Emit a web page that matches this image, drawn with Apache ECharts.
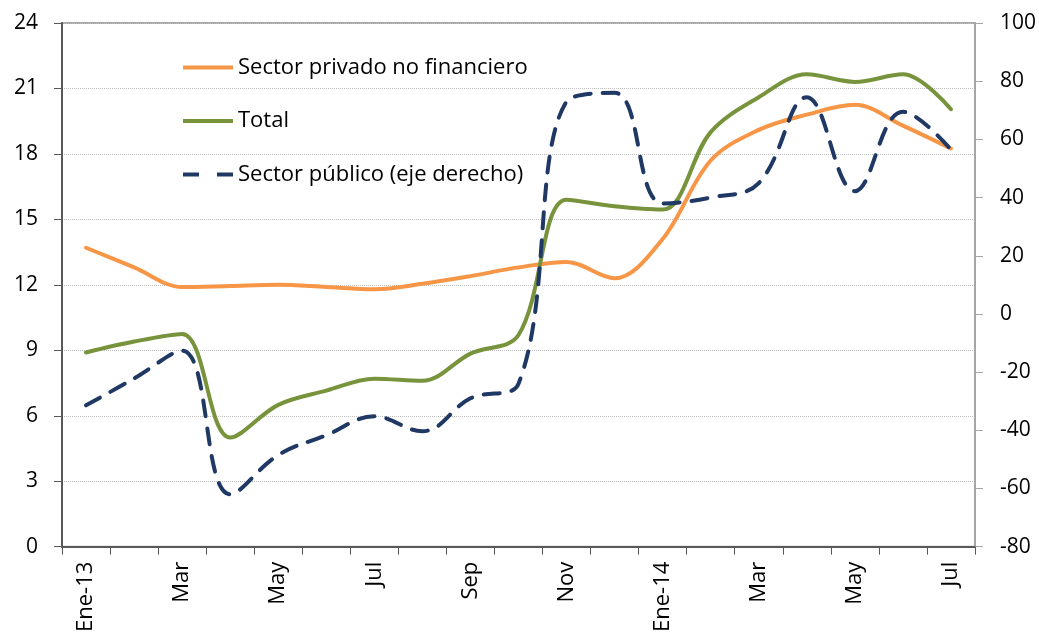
<!DOCTYPE html>
<html>
<head>
<meta charset="utf-8">
<script src="https://cdn.jsdelivr.net/npm/echarts@6/dist/echarts.min.js"></script>
<style>html,body{margin:0;padding:0;background:#fff}#c{width:1039px;height:635px}</style>
</head>
<body>
<div id="c"></div>
<script>
var categories = ['Ene-13','Feb','Mar','Abr','May','Jun','Jul','Ago','Sep','Oct','Nov','Dic','Ene-14','Feb','Mar','Abr','May','Jun','Jul'];
var privado = [13.7, 12.8, 11.9, 11.95, 12.0, 11.9, 11.8, 12.05, 12.4, 12.8, 13.05, 12.3, 14.1, 17.7, 19.1, 19.8, 20.25, 19.3, 18.25];
var total = [8.9, 9.4, 9.75, 5.0, 6.5, 7.15, 7.7, 7.6, 8.85, 9.7, 15.9, 15.6, 15.45, 19.0, 20.6, 21.65, 21.3, 21.65, 20.05];
var publico = [-31.4, -22.2, -12.6, -62, -48.5, -41.7, -35.2, -40.3, -29, -24, 73, 76, 38, 40, 45, 74.5, 42.2, 69.5, 56.5];
var names = ['Sector privado no financiero', 'Total', 'Sector público (eje derecho)'];

var font = 'Open Sans';
var solidIcon = 'path://M0,0h50v4h-50z';
var dashIcon = 'path://M0,0h16v4h-16z M34,0h16v4h-16z';
var chart = echarts.init(document.getElementById('c'));
chart.setOption({
  animation: false,
  textStyle: {fontFamily: font},
  grid: {left: 62, right: 63, top: 23, bottom: 86, show: true, borderColor: '#a6a6a6', borderWidth: 2},
  legend: {
    orient: 'vertical', left: 183, top: 56.5, padding: 0, itemWidth: 50, itemHeight: 4, itemGap: 31.5,
    textStyle: {fontSize: 22, color: '#000', fontFamily: font},
    data: [
      {name: names[0], icon: solidIcon},
      {name: names[1], icon: solidIcon},
      {name: names[2], icon: dashIcon}
    ]
  },
  xAxis: {
    type: 'category', data: categories, boundaryGap: true,
    axisLine: {lineStyle: {color: '#595959', width: 2}},
    axisTick: {show: true, interval: 0, length: 8, lineStyle: {color: '#595959', width: 1}},
    axisLabel: {interval: 1, rotate: 90, fontSize: 22, color: '#000', margin: 15}
  },
  yAxis: [
    {type: 'value', min: 0, max: 24, interval: 3,
     axisLine: {show: true, lineStyle: {color: '#595959', width: 2}},
     axisTick: {show: true, length: 8, lineStyle: {color: '#595959'}},
     axisLabel: {fontSize: 21, color: '#000', margin: 24},
     splitLine: {show: true, lineStyle: {color: '#bfbfbf', type: 'dotted', width: 1}}},
    {type: 'value', min: -80, max: 100, interval: 20,
     axisLine: {show: true, lineStyle: {color: '#a6a6a6', width: 2}},
     axisTick: {show: true, length: 8, lineStyle: {color: '#a6a6a6'}},
     axisLabel: {fontSize: 21, color: '#000', margin: 25},
     splitLine: {show: false}}
  ],
  series: [
    {name: names[0], type: 'line', data: privado, yAxisIndex: 0, smooth: 0.35, showSymbol: false, symbol: 'none',
     lineStyle: {color: '#f79646', width: 4, cap: 'round'}, itemStyle: {color: '#f79646'}, z: 3},
    {name: names[1], type: 'line', data: total, yAxisIndex: 0, smooth: 0.35, showSymbol: false, symbol: 'none',
     lineStyle: {color: '#77933c', width: 4, cap: 'round'}, itemStyle: {color: '#77933c'}, z: 4},
    {name: names[2], type: 'line', data: publico, yAxisIndex: 1, smooth: 0.4, showSymbol: false, symbol: 'none',
     lineStyle: {color: '#1f3864', width: 4, type: [16, 12], cap: 'round'}, itemStyle: {color: '#1f3864'}, z: 5}
  ]
});
</script>
</body>
</html>
